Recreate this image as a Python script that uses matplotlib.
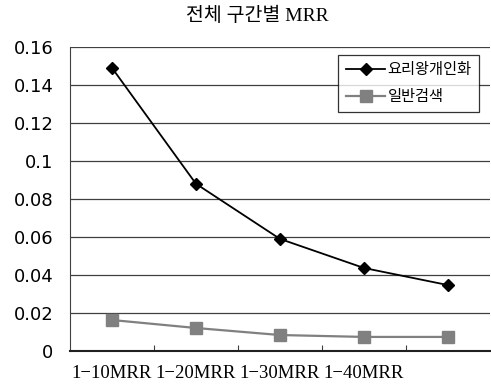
import matplotlib.pyplot as plt

categories = ['1-10MRR', '1-20MRR', '1-30MRR', '1-40MRR', '']
personalized = [0.149, 0.088, 0.059, 0.0437, 0.0347]
general = [0.0163, 0.0121, 0.0084, 0.0074, 0.0074]
y_ticks = [0, 0.02, 0.04, 0.06, 0.08, 0.1, 0.12, 0.14, 0.16]
y_labels = ['0', '0.02', '0.04', '0.06', '0.08', '0.1', '0.12', '0.14', '0.16']

plt.rcParams['font.family'] = ['DejaVu Sans', 'Noto Sans CJK KR']

fig = plt.figure(figsize=(4.91, 3.88), dpi=100)
ax = fig.add_axes([0.1426, 0.0954, 0.855, 0.7835])

x = list(range(len(categories)))
ax.plot(x, personalized, color='black', marker='D', markersize=6, linewidth=1.3,
        label='요리왕개인화')
ax.plot(x, general, color='#808080', marker='s', markersize=8, linewidth=1.6,
        label='일반검색')

ax.set_xlim(-0.5, len(categories) - 0.5)
ax.set_ylim(0, 0.16)
ax.set_yticks(y_ticks)
ax.set_yticklabels(y_labels, fontsize=13)
ax.yaxis.grid(True, color='#404040', linewidth=0.9)
ax.set_axisbelow(True)
ax.tick_params(axis='y', length=0, pad=12)

# category separators as ticks, labels drawn at category centres
ax.set_xticks([i + 0.5 for i in range(len(categories) - 1)])
ax.set_xticklabels([])
ax.tick_params(axis='x', length=4, direction='in', color='#404040')
for i, c in enumerate(categories):
    ax.annotate(c.replace('-', '\u2212'), xy=(i, 0), xytext=(0, -10),
                textcoords='offset points', ha='center', va='top', fontsize=13.5,
                family=['Liberation Serif'], annotation_clip=False)

for s in ['top', 'right']:
    ax.spines[s].set_visible(False)
ax.spines['left'].set_color('#404040')
ax.spines['bottom'].set_color('#202020')
ax.spines['bottom'].set_linewidth(1.5)

fig.text(0.525, 0.96, '전체 구간별 MRR', ha='center', va='center', fontsize=14,
         family=['Liberation Serif', 'Noto Sans CJK KR'])

leg = ax.legend(loc='upper right', bbox_to_anchor=(0.975, 0.975), fontsize=11,
                frameon=True, fancybox=False, handlelength=2.6, handletextpad=0.15,
                borderpad=0.5, labelspacing=0.8, borderaxespad=0)
leg.get_frame().set_edgecolor('black')
leg.get_frame().set_linewidth(0.9)

fig.savefig('out.png', dpi=100)
